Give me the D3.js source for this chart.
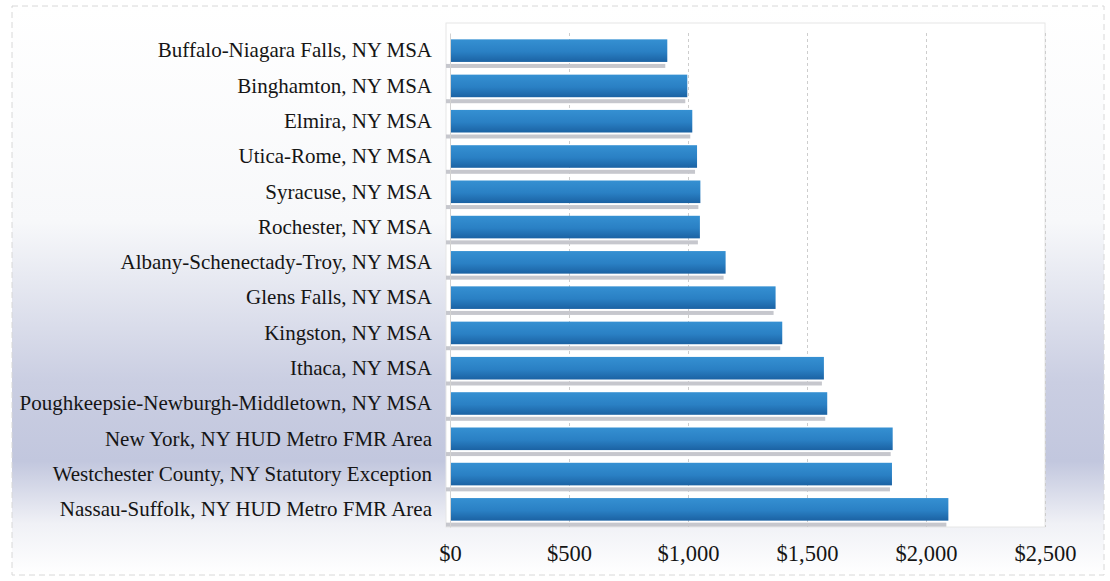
<!DOCTYPE html>
<html>
<head>
<meta charset="utf-8">
<script src="https://cdn.jsdelivr.net/npm/d3@7"></script>
<style>
  body { margin: 0; background: #fff; }
  text { font-family: "Liberation Serif", "Times New Roman", serif; fill: #151515; }
  .grid line { stroke: #cdcdcd; stroke-dasharray: 3,3; }
  .grid .domain { display: none; }
</style>
</head>
<body>
<svg id="chart" width="1110" height="581"></svg>
<script>
var areas = [
  "Buffalo-Niagara Falls, NY MSA",
  "Binghamton, NY MSA",
  "Elmira, NY MSA",
  "Utica-Rome, NY MSA",
  "Syracuse, NY MSA",
  "Rochester, NY MSA",
  "Albany-Schenectady-Troy, NY MSA",
  "Glens Falls, NY MSA",
  "Kingston, NY MSA",
  "Ithaca, NY MSA",
  "Poughkeepsie-Newburgh-Middletown, NY MSA",
  "New York, NY HUD Metro FMR Area",
  "Westchester County, NY Statutory Exception",
  "Nassau-Suffolk, NY HUD Metro FMR Area"
];
var rents = [913, 997, 1018, 1038, 1052, 1050, 1158, 1368, 1396, 1571, 1585, 1860, 1857, 2094];
var ticks = [0, 500, 1000, 1500, 2000, 2500];

var svg = d3.select("#chart");
var width = 1110, height = 581;
var margin = {top: 33, right: 65, bottom: 54, left: 450};
var plotW = width - margin.left - margin.right;
var plotH = height - margin.top - margin.bottom;

var defs = svg.append("defs");

// scanned-page tint: white top, blue-grey band lower down
var bg = defs.append("linearGradient")
  .attr("id", "bg").attr("x1", 0).attr("y1", 0).attr("x2", 0).attr("y2", 1);
bg.append("stop").attr("offset", "0%").attr("stop-color", "#ffffff");
bg.append("stop").attr("offset", "38%").attr("stop-color", "#f7f8fa");
bg.append("stop").attr("offset", "66%").attr("stop-color", "#cacee2");
bg.append("stop").attr("offset", "80%").attr("stop-color", "#c2c7de");
bg.append("stop").attr("offset", "91%").attr("stop-color", "#f0f1f6");
bg.append("stop").attr("offset", "100%").attr("stop-color", "#ffffff");

var barGrad = defs.append("linearGradient")
  .attr("id", "bar").attr("x1", 0).attr("y1", 0).attr("x2", 0).attr("y2", 1);
barGrad.append("stop").attr("offset", "0%").attr("stop-color", "#3590d2");
barGrad.append("stop").attr("offset", "55%").attr("stop-color", "#2a80c4");
barGrad.append("stop").attr("offset", "100%").attr("stop-color", "#1b62a3");

svg.append("rect")
  .attr("x", 12).attr("y", 6).attr("width", width - 18).attr("height", height - 12)
  .attr("fill", "url(#bg)")
  .attr("stroke", "#d8d8d8").attr("stroke-dasharray", "6,4");

/* Scales */
var x = d3.scaleLinear().domain([0, 2500]).range([0, plotW]);
var y = d3.scaleBand().domain(areas).range([0, plotH])
  .paddingInner(0.36).paddingOuter(0.18);

var plot = svg.append("g")
  .attr("transform", "translate(" + margin.left + "," + margin.top + ")");

plot.append("rect")
  .attr("x", -4).attr("y", -10)
  .attr("width", plotW + 4).attr("height", plotH + 10)
  .attr("fill", "#ffffff").attr("stroke", "#e6e6e6");

plot.append("g")
  .attr("class", "grid")
  .call(d3.axisBottom(x).tickValues(ticks.slice(1)).tickSize(plotH).tickFormat(""));

// grey reflection strip under each bar
plot.selectAll("rect.shadow")
  .data(rents)
  .enter().append("rect")
  .attr("class", "shadow")
  .attr("x", -4)
  .attr("y", function(d, i) { return y(areas[i]) + y.bandwidth() + 2; })
  .attr("width", function(d) { return x(d) + 2; })
  .attr("height", 4)
  .attr("fill", "#c6c7cd");

plot.selectAll("rect.bar")
  .data(rents)
  .enter().append("rect")
  .attr("class", "bar")
  .attr("x", 0)
  .attr("y", function(d, i) { return y(areas[i]); })
  .attr("width", function(d) { return x(d); })
  .attr("height", y.bandwidth())
  .attr("fill", "url(#bar)");

var yAxis = d3.axisLeft(y).tickSize(0).tickPadding(18);
plot.append("g")
  .call(yAxis)
  .call(function(g) { g.select(".domain").attr("stroke", "#d2d2d2"); })
  .selectAll("text")
  .attr("font-size", "21px");

var xAxis = d3.axisBottom(x).tickValues(ticks).tickSize(0).tickPadding(18)
  .tickFormat(function(d) { return "$" + d3.format(",")(d); });
plot.append("g")
  .attr("transform", "translate(0," + plotH + ")")
  .call(xAxis)
  .call(function(g) { g.select(".domain").remove(); })
  .selectAll("text")
  .attr("font-size", "22.5px");
</script>
</body>
</html>
